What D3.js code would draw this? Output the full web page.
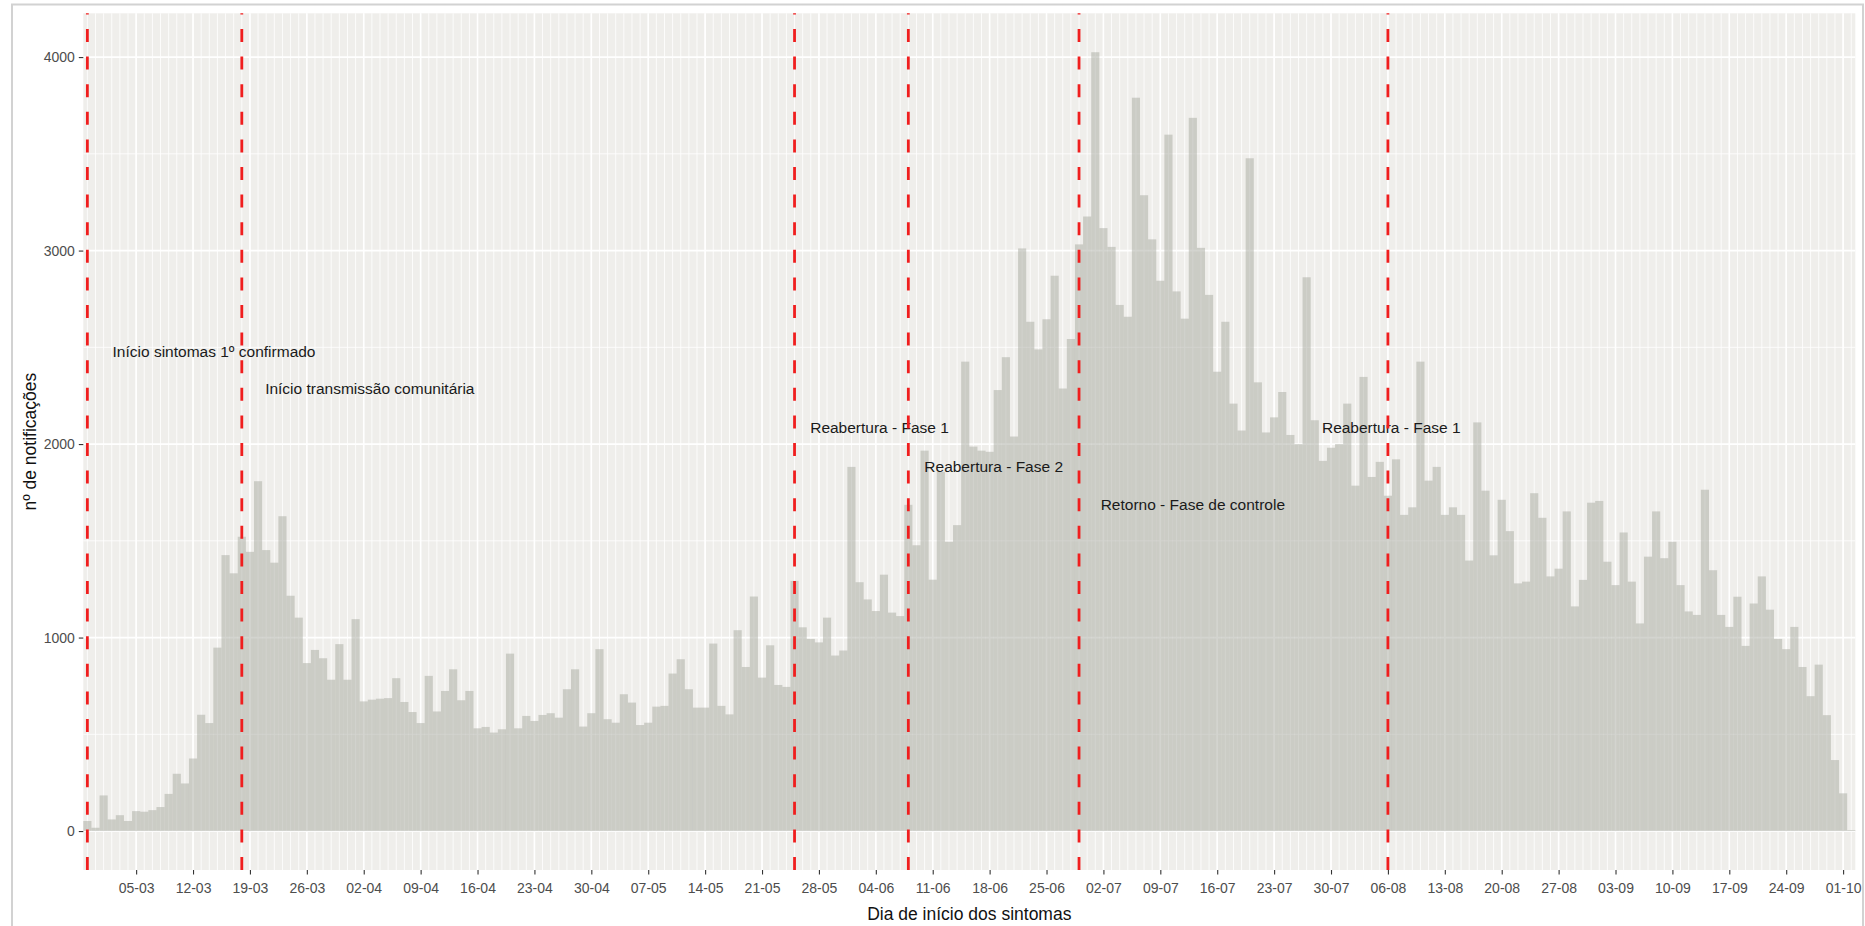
<!DOCTYPE html>
<html>
<head>
<meta charset="utf-8">
<script src="https://cdn.jsdelivr.net/npm/d3@7"></script>
<style>
html, body { margin: 0; padding: 0; background: #ffffff; }
svg { display: block; font-family: "Liberation Sans", Arial, sans-serif; }
</style>
</head>
<body>
<svg id="chart" width="1865" height="926"></svg>
<script>
// ---------------- DATA ----------------
// Daily categories: first and last day of symptom onset shown
const firstDay = "2020-02-28";
const lastDay = "2020-10-02";

// Notifications per day (Feb 28 .. Oct 2)
const notifications = [
  52, 17,                                                        // Feb 28-29
  184, 60, 82, 52, 103, 100, 108, 124, 192, 296, 246, 375, 601, 558, 948, 1426,
  1332, 1521, 1443, 1808, 1452, 1387, 1627, 1216, 1103, 868, 936, 893, 782, 966, 782, // March
  1095, 670, 679, 684, 687, 790, 667, 615, 558, 802, 618, 724, 836, 676, 724, 531,
  538, 509, 526, 917, 531, 595, 569, 600, 609, 586, 733, 836, 540, 609,              // April
  940, 578, 560, 707, 664, 548, 560, 643, 647, 814, 888, 733, 638, 638, 969, 647,
  603, 1038, 848, 1212, 793, 960, 755, 745, 1293, 1053, 993, 975, 1103, 907, 933,    // May
  1882, 1286, 1197, 1137, 1325, 1129, 1111, 1686, 1477, 1966, 1299, 1856, 1495, 1581, 2426, 1987,
  1966, 1960, 2279, 2449, 2039, 3011, 2632, 2489, 2645, 2870, 2287, 2543, 3032, 3176, // June
  4025, 3116, 3019, 2719, 2658, 3790, 3286, 3058, 2844, 3599, 2789, 2648, 3686, 3014, 2771, 2374,
  2632, 2209, 2070, 3477, 2319, 2060, 2138, 2269, 2047, 2000, 2862, 2123, 1913, 1981, 2000, // July
  2209, 1785, 2347, 1830, 1908, 1733, 1921, 1634, 1673, 2426, 1811, 1882, 1634, 1673, 1634, 1398,
  2112, 1759, 1425, 1712, 1550, 1280, 1289, 1746, 1619, 1316, 1356, 1652, 1161, 1298, 1697, // August
  1706, 1392, 1271, 1543, 1289, 1073, 1418, 1652, 1410, 1495, 1271, 1135, 1117, 1764, 1348, 1117,
  1055, 1211, 957, 1176, 1316, 1144, 993, 940, 1055, 848, 697, 860, 599, 367,         // September
  195, 5                                                         // Oct 1-2
];

const xTickLabels = ["05-03","12-03","19-03","26-03","02-04","09-04","16-04","23-04","30-04",
  "07-05","14-05","21-05","28-05","04-06","11-06","18-06","25-06","02-07","09-07","16-07",
  "23-07","30-07","06-08","13-08","20-08","27-08","03-09","10-09","17-09","24-09","01-10"];
const tickYear = "2020";

const yMajorTicks = [0, 1000, 2000, 3000, 4000];
const yMinorTicks = [500, 1500, 2500, 3500];

const eventDates = ["2020-02-28", "2020-03-18", "2020-05-25", "2020-06-08", "2020-06-29", "2020-08-06"];

const annotationLabels = [
  "Início sintomas 1º confirmado",
  "Início transmissão comunitária",
  "Reabertura - Fase 1",
  "Reabertura - Fase 2",
  "Retorno - Fase de controle",
  "Reabertura - Fase 1"
];
const annotationDates = ["2020-03-14T14:00", "2020-04-02T18:00", "2020-06-04T11:00",
  "2020-06-18T12:00", "2020-07-13T00:00", "2020-08-06T10:00"];
const annotationValues = [2480, 2285, 2085, 1886, 1688, 2085];

const xTitle = "Dia de início dos sintomas";
const yTitle = "nº de notificações";

// ---------------- LAYOUT ----------------
const W = 1865, H = 926;
const panel = { left: 83.3, right: 1855.3, top: 13.3, bottom: 870 };
const colors = {
  panelBg: "#efeeeb",
  grid: "#ffffff",
  bar: "#a8aa9f",
  event: "#f01e1e",
  tickText: "#4d4d4d",
  tickLine: "#333333",
  title: "#111111",
  annot: "#1a1a1a",
  frame: "#d2d2d2"
};

const parseDay = d3.utcParse("%Y-%m-%d");
const parseDT = d3.utcParse("%Y-%m-%dT%H:%M");
const parseTick = d3.utcParse("%d-%m-%Y");

const days = d3.utcDay.range(parseDay(firstDay), d3.utcDay.offset(parseDay(lastDay), 1));
const data = days.map((d, i) => ({ date: d, value: notifications[i] }));

const svg = d3.select("#chart");

// outer frame
svg.append("rect")
  .attr("x", 12).attr("y", 4.5).attr("width", 1851).attr("height", 960)
  .attr("fill", "#ffffff").attr("stroke", colors.frame).attr("stroke-width", 2);

// scales
const x = d3.scaleUtc()
  .domain([d3.utcHour.offset(days[0], -12), d3.utcHour.offset(days[days.length - 1], 12)])
  .range([panel.left, panel.right]);

const yMax = d3.max(notifications);
const pad = 0.05 * yMax;
const y = d3.scaleLinear()
  .domain([-pad, yMax + pad])
  .range([panel.bottom, panel.top]);

// panel background
svg.append("rect")
  .attr("x", panel.left).attr("y", panel.top)
  .attr("width", panel.right - panel.left).attr("height", panel.bottom - panel.top)
  .attr("fill", colors.panelBg);

const tickDates = xTickLabels.map(s => parseTick(s + "-" + tickYear));

const grid = svg.append("g");
// vertical daily (minor) lines
grid.selectAll("line.vminor").data(days).join("line")
  .attr("x1", d => x(d)).attr("x2", d => x(d))
  .attr("y1", panel.top).attr("y2", panel.bottom)
  .attr("stroke", colors.grid).attr("stroke-width", 0.9).attr("stroke-opacity", 0.9);
// vertical weekly (major) lines
grid.selectAll("line.vmajor").data(tickDates).join("line")
  .attr("x1", d => x(d)).attr("x2", d => x(d))
  .attr("y1", panel.top).attr("y2", panel.bottom)
  .attr("stroke", colors.grid).attr("stroke-width", 1.6);
// horizontal minor
grid.selectAll("line.hminor").data(yMinorTicks).join("line")
  .attr("x1", panel.left).attr("x2", panel.right)
  .attr("y1", d => y(d)).attr("y2", d => y(d))
  .attr("stroke", colors.grid).attr("stroke-width", 1).attr("stroke-opacity", 0.8);
// horizontal major
grid.selectAll("line.hmajor").data(yMajorTicks).join("line")
  .attr("x1", panel.left).attr("x2", panel.right)
  .attr("y1", d => y(d)).attr("y2", d => y(d))
  .attr("stroke", colors.grid).attr("stroke-width", 1.8);

// bars
svg.append("g").selectAll("rect").data(data).join("rect")
  .attr("x", d => x(d3.utcHour.offset(d.date, -12)))
  .attr("width", d => x(d3.utcHour.offset(d.date, 12)) - x(d3.utcHour.offset(d.date, -12)))
  .attr("y", d => y(d.value))
  .attr("height", d => y(0) - y(d.value))
  .attr("fill", colors.bar).attr("fill-opacity", 0.5);

// annotations
svg.append("g").selectAll("text").data(annotationLabels).join("text")
  .attr("x", (d, i) => x(parseDT(annotationDates[i])))
  .attr("y", (d, i) => y(annotationValues[i]))
  .attr("dy", "0.35em")
  .attr("text-anchor", "middle")
  .attr("font-size", "15.5px")
  .attr("fill", colors.annot)
  .text(d => d);

// event lines (dashed red)
svg.append("g").selectAll("line").data(eventDates).join("line")
  .attr("x1", d => x(parseDay(d))).attr("x2", d => x(parseDay(d)))
  .attr("y1", panel.bottom).attr("y2", panel.top)
  .attr("stroke", colors.event).attr("stroke-width", 2.8)
  .attr("stroke-dasharray", "13,14.6");

// x axis
const xAxis = svg.append("g")
  .attr("transform", `translate(0,${panel.bottom})`)
  .call(d3.axisBottom(x).tickValues(tickDates).tickFormat(d3.utcFormat("%d-%m")).tickSize(4.5).tickPadding(9));
xAxis.select(".domain").remove();
xAxis.selectAll(".tick line").attr("stroke", colors.tickLine).attr("stroke-width", 1.1);
xAxis.selectAll(".tick text").attr("fill", colors.tickText).attr("font-size", "14px")
  .attr("font-family", "Liberation Sans, Arial, sans-serif");

// y axis
const yAxis = svg.append("g")
  .attr("transform", `translate(${panel.left},0)`)
  .call(d3.axisLeft(y).tickValues(yMajorTicks).tickFormat(d3.format("d")).tickSize(4.5).tickPadding(4));
yAxis.select(".domain").remove();
yAxis.selectAll(".tick line").attr("stroke", colors.tickLine).attr("stroke-width", 1.1);
yAxis.selectAll(".tick text").attr("fill", colors.tickText).attr("font-size", "14px")
  .attr("font-family", "Liberation Sans, Arial, sans-serif");

// axis titles
svg.append("text")
  .attr("x", (panel.left + panel.right) / 2).attr("y", 920)
  .attr("text-anchor", "middle").attr("font-size", "17.5px").attr("fill", colors.title)
  .text(xTitle);
svg.append("text")
  .attr("transform", `translate(36,${(panel.top + panel.bottom) / 2}) rotate(-90)`)
  .attr("text-anchor", "middle").attr("font-size", "17.5px").attr("fill", colors.title)
  .text(yTitle);
</script>
</body>
</html>
